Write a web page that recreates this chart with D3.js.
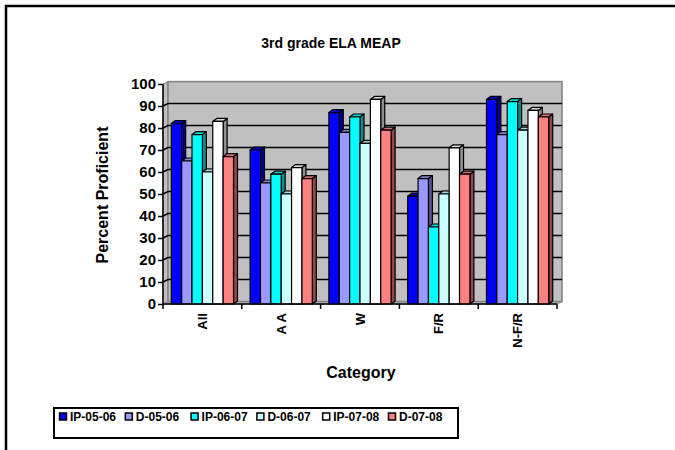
<!DOCTYPE html>
<html>
<head>
<meta charset="utf-8">
<script src="https://cdn.jsdelivr.net/npm/d3@7"></script>
<style>
  html, body { margin: 0; padding: 0; background: #fff; }
  svg { display: block; font-family: Arial, "Liberation Sans", sans-serif; }
</style>
</head>
<body>
<svg id="chart" width="675" height="450"></svg>
<script>
// Percent proficient by student category, one series per test year
const categories = ["All", "A A", "W", "F/R", "N-F/R"];
const seriesNames = ["IP-05-06", "D-05-06", "IP-06-07", "D-06-07", "IP-07-08", "D-07-08"];
const seriesColors = ["#0000FF", "#9999FF", "#00FFFF", "#CCFFFF", "#FFFFFF", "#FF8080"];
const ip0506 = [82, 70, 87, 49, 93];
const d0506  = [65, 55, 78, 57, 77];
const ip0607 = [77, 59, 85, 35, 92];
const d0607  = [60, 50, 73, 50, 79];
const ip0708 = [83, 62, 93, 71, 88];
const d0708  = [67, 57, 79, 59, 85];
const yTicks = [0, 10, 20, 30, 40, 50, 60, 70, 80, 90, 100];

const seriesValues = [ip0506, d0506, ip0607, d0607, ip0708, d0708];

const svg = d3.select("#chart");

// outer frame
svg.append("rect")
  .attr("x", 6).attr("y", 6).attr("width", 720).attr("height", 500)
  .attr("fill", "none").attr("stroke", "#000").attr("stroke-width", 2.5);

// title
svg.append("text")
  .attr("x", 331).attr("y", 48)
  .attr("text-anchor", "middle")
  .attr("font-size", 14).attr("font-weight", "bold")
  .text("3rd grade ELA MEAP");

// scales
const plotLeft = 163, plotRight = 557, plotBottom = 304, plotTop = 84;
const y = d3.scaleLinear().domain([0, 100]).range([plotBottom, plotTop]);
const x = d3.scaleBand().domain(categories).range([plotLeft, plotRight]).padding(0);
const xs = d3.scaleBand().domain(seriesNames).range([0, x.bandwidth()])
  .paddingInner(0).paddingOuter(0.8);
const color = d3.scaleOrdinal().domain(seriesNames).range(seriesColors);

// 3D depth offsets
const wdx = 5, wdy = 2.4;   // back wall
const bdx = 4, bdy = 3;     // bar depth

const g = svg.append("g");

// side wall (left)
g.append("path")
  .attr("d", `M${plotLeft},${y(0)} L${plotLeft},${y(100)} L${plotLeft + wdx},${y(100) - wdy} L${plotLeft + wdx},${y(0) - wdy} Z`)
  .attr("fill", "#C0C0C0").attr("stroke", "#808080").attr("stroke-width", 1);
// floor
g.append("path")
  .attr("d", `M${plotLeft},${y(0)} L${plotLeft + wdx},${y(0) - wdy} L${plotRight + wdx},${y(0) - wdy} L${plotRight},${y(0)} Z`)
  .attr("fill", "#C0C0C0").attr("stroke", "#808080").attr("stroke-width", 1);
// back wall
g.append("rect")
  .attr("x", plotLeft + wdx).attr("y", y(100) - wdy)
  .attr("width", plotRight - plotLeft).attr("height", y(0) - y(100))
  .attr("fill", "#C0C0C0").attr("stroke", "#808080").attr("stroke-width", 1.5);

// gridlines on back wall and side wall
const grid = g.append("g").attr("stroke", "#000").attr("stroke-width", 1.5).attr("fill", "none");
yTicks.filter(v => v > 0 && v < 100).forEach(v => {
  grid.append("path")
    .attr("d", `M${plotLeft},${y(v)} L${plotLeft + wdx},${y(v) - wdy} L${plotRight + wdx},${y(v) - wdy}`);
});

// bars, drawn left to right so each front face hides the previous side face
const bars = g.append("g");
categories.forEach((cat, ci) => {
  seriesNames.forEach((s, si) => {
    const v = seriesValues[si][ci];
    const x0 = x(cat) + xs(s), w = xs.bandwidth();
    const yt = y(v), yb = y(0);
    const c = d3.color(color(s));
    const bg = bars.append("g").attr("stroke", "#000").attr("stroke-width", 1.2).attr("stroke-linejoin", "round");
    // right side face
    bg.append("path")
      .attr("d", `M${x0 + w},${yb} L${x0 + w},${yt} L${x0 + w + bdx},${yt - bdy} L${x0 + w + bdx},${yb - bdy} Z`)
      .attr("fill", c.darker(1.6));
    // top face
    bg.append("path")
      .attr("d", `M${x0},${yt} L${x0 + bdx},${yt - bdy} L${x0 + w + bdx},${yt - bdy} L${x0 + w},${yt} Z`)
      .attr("fill", c.darker(0.5));
    // front face
    bg.append("rect")
      .attr("x", x0).attr("y", yt).attr("width", w).attr("height", yb - yt)
      .attr("fill", c.formatHex());
  });
});

// y axis
const yAxis = svg.append("g")
  .attr("transform", `translate(${plotLeft},0)`)
  .call(d3.axisLeft(y).tickValues(yTicks).tickSize(5).tickPadding(2).tickFormat(d3.format("d")));
yAxis.select(".domain").attr("stroke", "#000").attr("stroke-width", 1.5).attr("d", `M0,${y(0)}V${y(100)}`);
yAxis.selectAll(".tick line").attr("stroke", "#000").attr("stroke-width", 1.5);
yAxis.selectAll(".tick text")
  .attr("font-size", 15).attr("font-weight", "bold").attr("fill", "#000")
  .attr("font-family", "Arial, 'Liberation Sans', sans-serif");

// x axis: line, boundary ticks, rotated category labels
const xAxis = svg.append("g")
  .attr("transform", `translate(0,${plotBottom})`)
  .call(d3.axisBottom(x).tickSize(0).tickPadding(8));
xAxis.select(".domain").attr("stroke", "#000").attr("stroke-width", 1.5).attr("d", `M${plotLeft},0H${plotRight}`);
xAxis.selectAll(".tick text")
  .attr("font-size", 13).attr("font-weight", "bold").attr("fill", "#000")
  .attr("font-family", "Arial, 'Liberation Sans', sans-serif")
  .attr("text-anchor", "end")
  .attr("dy", "0.35em")
  .attr("transform", "rotate(-90)")
  .attr("x", -9).attr("y", 0);
const bounds = categories.map(c => x(c)).concat([x(categories[categories.length - 1]) + x.bandwidth()]);
xAxis.selectAll(".bound").data(bounds).enter().append("line")
  .attr("x1", d => d).attr("x2", d => d).attr("y1", 0).attr("y2", 5)
  .attr("stroke", "#000").attr("stroke-width", 1.5);

// axis titles
svg.append("text")
  .attr("transform", "translate(108,195) rotate(-90)")
  .attr("text-anchor", "middle")
  .attr("font-size", 16).attr("font-weight", "bold")
  .text("Percent Proficient");
svg.append("text")
  .attr("x", 361).attr("y", 378)
  .attr("text-anchor", "middle")
  .attr("font-size", 16).attr("font-weight", "bold")
  .text("Category");

// legend
const legend = svg.append("g");
legend.append("rect")
  .attr("x", 54).attr("y", 408).attr("width", 404).attr("height", 30)
  .attr("fill", "#fff").attr("stroke", "#000").attr("stroke-width", 2);
const legendX = d3.scalePoint().domain(seriesNames).range([59, 388]);
const items = legend.selectAll(".item").data(seriesNames).enter().append("g")
  .attr("transform", d => `translate(${legendX(d)},0)`);
items.append("rect")
  .attr("x", 0.5).attr("y", 413).attr("width", 7).attr("height", 7)
  .attr("fill", d => color(d)).attr("stroke", "#000").attr("stroke-width", 1.5);
items.append("text")
  .attr("x", 11).attr("y", 421)
  .attr("font-size", 12).attr("font-weight", "bold")
  .text(d => d);
</script>
</body>
</html>
